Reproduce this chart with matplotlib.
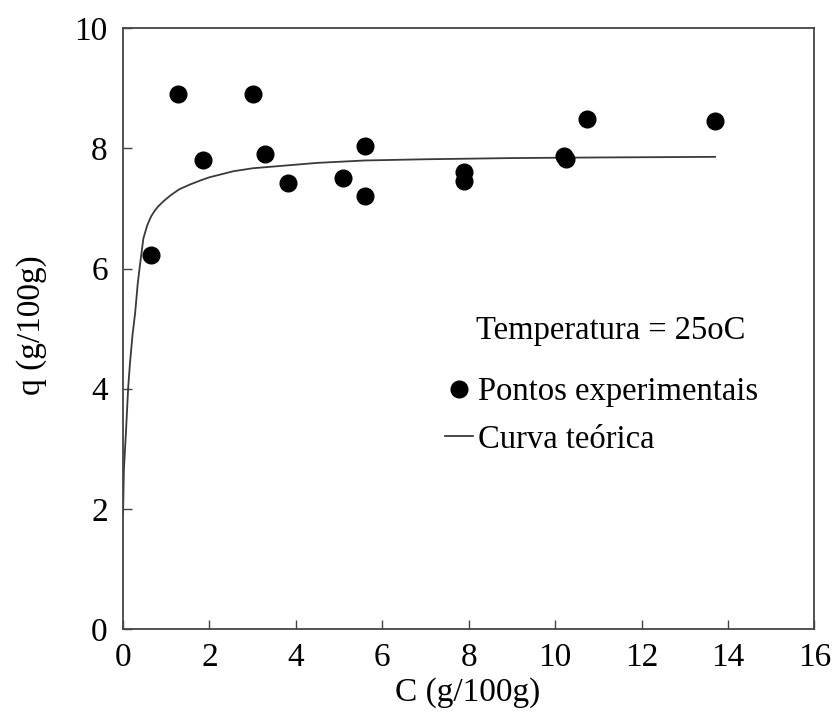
import matplotlib
matplotlib.use("Agg")
import matplotlib.pyplot as plt

C_exp = [0.64, 1.27, 1.84, 3.01, 3.29, 3.81, 5.08, 5.59, 5.59, 7.88, 7.88, 10.21, 10.24, 10.74, 13.70]
q_exp = [6.23, 8.91, 7.81, 8.91, 7.91, 7.43, 7.50, 8.04, 7.21, 7.60, 7.45, 7.87, 7.82, 8.49, 8.46]

# Theoretical curve
C_curve = [0.0, 0.02, 0.05, 0.07, 0.10, 0.12, 0.16, 0.22, 0.28, 0.34, 0.39, 0.47, 0.56,
           0.65, 0.74, 0.82, 0.95, 1.1, 1.3, 1.55, 1.8, 2.0, 2.55, 3.0, 3.5, 4.5, 5.6,
           7.0, 9.0, 11.0, 13.7]
q_curve = [1.9, 2.65, 3.05, 3.31, 3.75, 4.03, 4.42, 4.9, 5.26, 5.75, 6.05, 6.5, 6.72,
           6.87, 6.97, 7.04, 7.13, 7.22, 7.32, 7.40, 7.47, 7.52, 7.62, 7.67, 7.70, 7.76, 7.80,
           7.82, 7.84, 7.85, 7.86]

xticks = [0, 2, 4, 6, 8, 10, 12, 14, 16]
yticks = [0, 2, 4, 6, 8, 10]

plt.rcParams['font.family'] = ['Liberation Serif', 'DejaVu Serif']

fig = plt.figure(figsize=(8.37, 7.26), dpi=100)
ax = fig.add_axes([0.147, 0.1336, 0.826, 0.8274])

ax.plot(C_curve, q_curve, color='#3a3a3a', lw=1.3, label='Curva teórica', zorder=2)
ax.plot(C_exp, q_exp, 'o', color='black', ms=12, label='Pontos experimentais', zorder=3)

ax.set_xlim(0, 16)
ax.set_ylim(0, 10)
ax.set_xticks(xticks)
ax.set_yticks(yticks)
ax.tick_params(direction='in', length=6.5, width=1.0, color='#444444',
               labelsize=24, top=False, right=False)
ax.tick_params(axis='x', pad=10)
ax.tick_params(axis='y', pad=11)
for s in ax.spines.values():
    s.set_color('#444444')
    s.set_linewidth(1.3)

ax.set_xlabel('C (g/100g)', fontsize=24)
ax.set_ylabel('q (g/100g)', fontsize=24)
ax.xaxis.set_label_coords(0.499, -0.080)
ax.yaxis.set_label_coords(-0.110, 0.506)

ax.text(0.5112, 0.496, 'Temperatura = 25oC', transform=ax.transAxes,
        fontsize=23.5, ha='left', va='center')

h_line, h_pts = ax.get_legend_handles_labels()[0]
leg = ax.legend([h_pts, h_line], ['Pontos experimentais', 'Curva teórica'],
                loc='upper left', bbox_to_anchor=(0.4656, 0.4203), frameon=False,
                fontsize=23.5, borderpad=0, borderaxespad=0, handlelength=0.86,
                handletextpad=0.15, labelspacing=0.52, numpoints=1)

fig.savefig('out.png', dpi=100)
